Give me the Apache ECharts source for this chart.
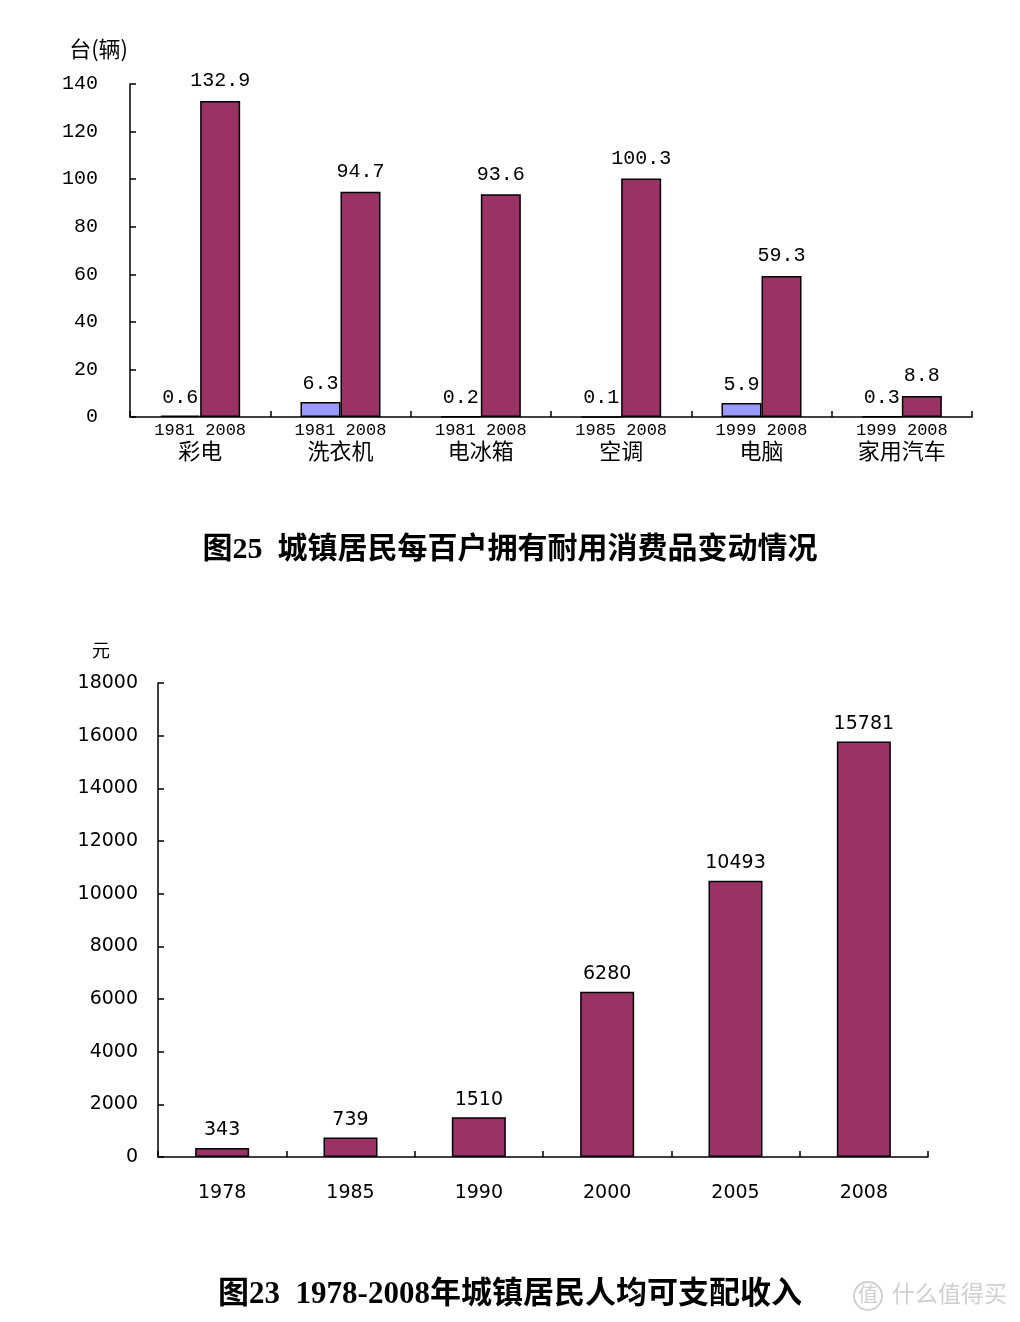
<!DOCTYPE html>
<html><head><meta charset="utf-8">
<script src="https://cdn.jsdelivr.net/npm/echarts@6/dist/echarts.min.js"></script>
<style>html,body{margin:0;padding:0;background:#fff}#c{width:1020px;height:1322px}</style>
</head><body><div id="c"></div>
<script>
// Chart 1 data
const goods = ['彩电', '洗衣机', '电冰箱', '空调', '电脑', '家用汽车'];
const oldYears = ['1981', '1981', '1981', '1985', '1999', '1999'];
const newYears = ['2008', '2008', '2008', '2008', '2008', '2008'];
const oldValues = [0.6, 6.3, 0.2, 0.1, 5.9, 0.3];
const newValues = [132.9, 94.7, 93.6, 100.3, 59.3, 8.8];
const title1 = '图25  城镇居民每百户拥有耐用消费品变动情况';
const unit1 = '台(辆)';
// Chart 2 data
const years2 = ['1978', '1985', '1990', '2000', '2005', '2008'];
const income = [343, 739, 1510, 6280, 10493, 15781];
const title2 = '图23  1978-2008年城镇居民人均可支配收入';
const unit2 = '元';

const mono = "'Liberation Mono','Noto Sans CJK SC',monospace";
const cjk = "'Noto Sans CJK SC',sans-serif";
const sans2 = "'DejaVu Sans','Noto Sans CJK SC',sans-serif";
const serif = "'Liberation Serif','Noto Sans CJK SC',serif";
const axisLine = {show: true, lineStyle: {color: '#000', width: 1.5}};
const axisTick = {show: true, inside: true, length: 6, lineStyle: {color: '#000', width: 1.5}};

const chart = echarts.init(document.getElementById('c'));
chart.setOption({
  animation: false,
  backgroundColor: '#fff',
  title: [
    {text: title1, left: 'center', top: 530, textStyle: {fontFamily: serif, fontSize: 30, fontWeight: 'bold', color: '#000'}},
    {text: title2, left: 'center', top: 1274, textStyle: {fontFamily: serif, fontSize: 31, fontWeight: 'bold', color: '#000'}}
  ],
  grid: [
    {left: 130, right: 48, top: 84, height: 333},
    {left: 158, right: 92, top: 683, height: 474}
  ],
  xAxis: [
    {type: 'category', gridIndex: 0, data: goods, axisLine, axisTick,
     axisLabel: {margin: 4, interval: 0,
       formatter: (v, i) => '{y|' + oldYears[i] + ' ' + newYears[i] + '}\n{c|' + v + '}',
       rich: {y: {fontFamily: mono, fontSize: 17, lineHeight: 18, color: '#000'},
              c: {fontFamily: cjk, fontSize: 22, lineHeight: 24, color: '#000'}}}},
    {type: 'category', gridIndex: 1, data: years2, axisLine, axisTick,
     axisLabel: {margin: 27, fontFamily: sans2, fontSize: 19, color: '#000'}}
  ],
  yAxis: [
    {type: 'value', gridIndex: 0, min: 0, max: 140, interval: 20, axisLine, axisTick, splitLine: {show: false},
     name: unit1, nameLocation: 'end', nameGap: 24,
     nameTextStyle: {fontFamily: cjk, fontSize: 22, color: '#000', align: 'right', padding: [0, 2, 0, 0]},
     axisLabel: {margin: 32, fontFamily: mono, fontSize: 20, color: '#000'}},
    {type: 'value', gridIndex: 1, min: 0, max: 18000, interval: 2000, axisLine, axisTick, splitLine: {show: false},
     name: unit2, nameLocation: 'end', nameGap: 24,
     nameTextStyle: {fontFamily: cjk, fontSize: 18, color: '#000', align: 'right', padding: [0, 48, 0, 0]},
     axisLabel: {margin: 20, fontFamily: sans2, fontSize: 19, color: '#000', formatter: v => String(v)}}
  ],
  series: [
    {type: 'bar', xAxisIndex: 0, yAxisIndex: 0, data: oldValues, barWidth: 40, barGap: '0%',
     itemStyle: {color: '#9999FF', borderColor: '#000', borderWidth: 1.5},
     label: {show: true, position: 'top', distance: 8, fontFamily: mono, fontSize: 20, color: '#000'}},
    {type: 'bar', xAxisIndex: 0, yAxisIndex: 0, data: newValues, barWidth: 40, barGap: '0%',
     itemStyle: {color: '#993366', borderColor: '#000', borderWidth: 1.5},
     label: {show: true, position: 'top', distance: 10, fontFamily: mono, fontSize: 20, color: '#000'}},
    {type: 'bar', xAxisIndex: 1, yAxisIndex: 1, data: income, barWidth: 54,
     itemStyle: {color: '#993366', borderColor: '#000', borderWidth: 1.5},
     label: {show: true, position: 'top', distance: 8, fontFamily: sans2, fontSize: 19, color: '#000'}}
  ],
  graphic: [
    {type: 'circle', shape: {cx: 868, cy: 1296, r: 14}, style: {fill: 'none', stroke: '#d0d0d0', lineWidth: 2}},
    {type: 'text', left: 858, top: 1284, style: {text: '值', fontFamily: cjk, fontSize: 20, fill: '#d0d0d0'}},
    {type: 'text', left: 892, top: 1282, style: {text: '什么值得买', fontFamily: cjk, fontSize: 23, fill: '#d0d0d0'}}
  ]
});
</script></body></html>
